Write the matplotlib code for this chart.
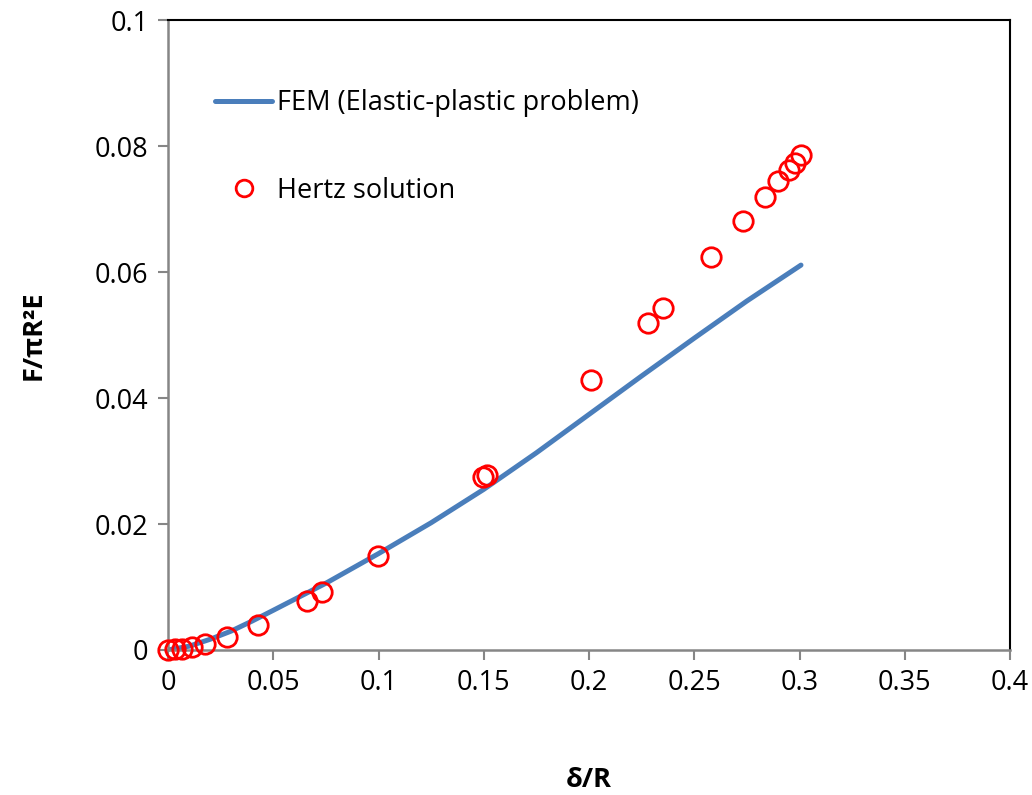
import numpy as np
import matplotlib
matplotlib.use("Agg")
import matplotlib.pyplot as plt
from matplotlib.lines import Line2D

# FEM curve
fem_x = [0, 0.01, 0.02, 0.03, 0.04, 0.05, 0.075, 0.1, 0.125, 0.15, 0.175, 0.2, 0.225, 0.25, 0.275, 0.3007]
fem_y = [0, 0.0006, 0.0017, 0.003, 0.0046, 0.0063, 0.0106, 0.0153, 0.0202, 0.0255, 0.0313, 0.0374, 0.0435, 0.0495, 0.0554, 0.0611]

# Hertz solution points
hertz_x = [0, 0.0033, 0.0067, 0.0114, 0.0176, 0.028, 0.0428, 0.066, 0.0732, 0.0998,
           0.1496, 0.1515, 0.201, 0.228, 0.235, 0.258, 0.273, 0.2836, 0.290, 0.295, 0.2979, 0.3007]
hertz_y = [0, 0.00016, 0.0002, 0.0005, 0.00095, 0.0021, 0.004, 0.0078, 0.0092, 0.0149,
           0.0275, 0.0278, 0.0429, 0.0519, 0.0543, 0.0624, 0.0681, 0.0719, 0.0744, 0.0762, 0.0773, 0.0786]

plt.rcParams['font.family'] = ['Open Sans', 'DejaVu Sans']

fig = plt.figure(figsize=(10.32, 7.95), dpi=100)
ax = fig.add_axes([0.1628, 0.1824, 0.8159, 0.7924])

ax.plot(fem_x, fem_y, color='#4A7EBB', lw=3.6, solid_capstyle='round', zorder=2)
ax.plot(hertz_x, hertz_y, ls='none', marker='o', ms=14, mfc='none', mec='#FF0000', mew=2, zorder=3, clip_on=False)

ax.set_xlim(0, 0.4)
ax.set_ylim(0, 0.1)
ax.set_xticks([0, 0.05, 0.1, 0.15, 0.2, 0.25, 0.3, 0.35, 0.4])
ax.set_xticklabels(['0', '0.05', '0.1', '0.15', '0.2', '0.25', '0.3', '0.35', '0.4'])
ax.set_yticks([0, 0.02, 0.04, 0.06, 0.08, 0.1])
ax.set_yticklabels(['0', '0.02', '0.04', '0.06', '0.08', '0.1'])
ax.tick_params(direction='out', length=7, width=1.5, color='#868686', labelsize=19.5, pad=7)

for s in ['left', 'bottom']:
    ax.spines[s].set_color('#868686')
    ax.spines[s].set_linewidth(1.8)
for s in ['top', 'right']:
    ax.spines[s].set_color('black')
    ax.spines[s].set_linewidth(1.5)

ax.set_xlabel('δ/R', fontsize=19.5, fontweight='bold', labelpad=50)
ax.set_ylabel('F/πR²E', fontsize=19.5, fontweight='bold', labelpad=35)

handles = [Line2D([], [], color='#4A7EBB', lw=3.6, solid_capstyle='round'),
           Line2D([], [], ls='none', marker='o', ms=12, mfc='none', mec='#FF0000', mew=2)]
ax.legend(handles, ['FEM (Elastic-plastic problem)', 'Hertz solution'],
          loc='upper left', bbox_to_anchor=(0.027, 0.929), frameon=False, fontsize=19.5,
          handlelength=2.1, handletextpad=0.2, labelspacing=2.2)

fig.savefig('out.png', dpi=100)
